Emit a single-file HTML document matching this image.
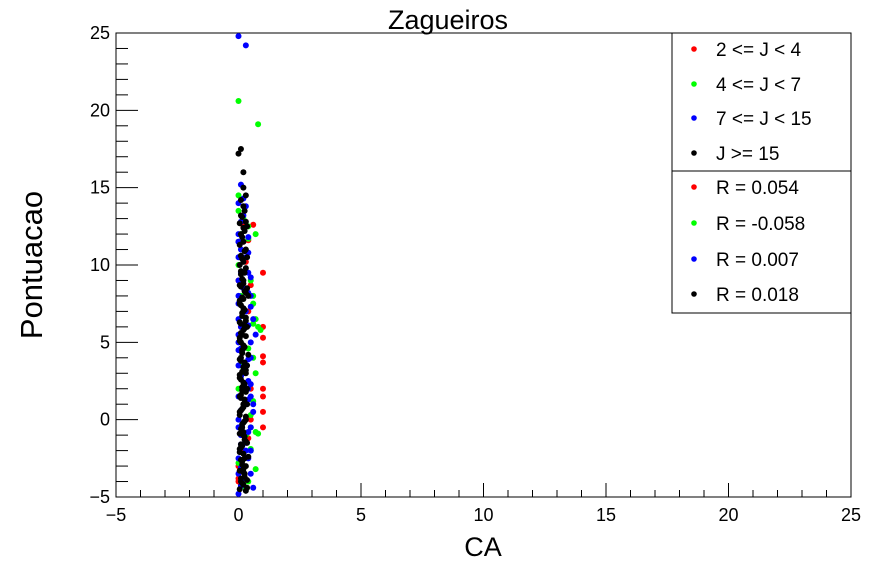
<!DOCTYPE html>
<html><head><meta charset="utf-8"><style>
html,body{margin:0;padding:0;background:#fff;}
svg{display:block;font-family:"Liberation Sans",sans-serif;}
</style></head><body>
<svg id="chart" width="896" height="572">
<rect x="0" y="0" width="896" height="572" fill="#fff"/>
<text x="448" y="29" font-size="27" text-anchor="middle">Zagueiros</text>
<text x="483" y="556" font-size="27" text-anchor="middle">CA</text>
<text transform="translate(42,265) rotate(-90)" font-size="31" text-anchor="middle">Pontuacao</text>
<g id="axes"></g>
<g id="points"></g>
<g id="legend"></g>
</svg>
<script>
const xTicks=[-5,0,5,10,15,20,25];
const yTicks=[-5,0,5,10,15,20,25];
const seriesNames=["2 <= J < 4","4 <= J < 7","7 <= J < 15","J >= 15"];
const seriesR=["R = 0.054","R = -0.058","R = 0.007","R = 0.018"];
const colors=["#ff0000","#00ff00","#0000ff","#000000"];
const redX=[1.0,1.0,1.0,1.0,1.0,1.0,1.0,1.0,1.0,0.6,0.5,0.4,0.3,0.2,0.1,0.0,0.0,0.1,0.5,0.4,0.0,0.2,0.4,0.5,0.0,0.1];
const redY=[9.5,6.0,5.3,4.1,3.7,2.0,1.5,0.5,-0.5,12.6,8.7,7.0,10.2,11.5,6.0,-3.0,-4.0,-2.0,2.0,-1.2,9.0,12.5,11.6,0.0,-3.8,4.5];
const greenX=[0.0,0.8,0.7,0.6,0.4,0.8,0.9,0.7,0.6,0.5,0.8,0.7,0.5,0.4,0.3,0.2,0.0,0.0,0.1,0.5,0.7,0.6,0.0,0.1,0.3,0.5,0.0,0.4,0.6,0.7,0.5,0.0,0.1,0.6,0.4];
const greenY=[20.6,19.1,12.0,7.5,12.5,6.0,5.8,3.0,1.2,0.3,-0.9,-3.2,-2.0,-4.0,-4.5,13.0,14.5,13.5,12.0,9.0,6.5,4.0,10.0,8.0,-1.0,-0.5,2.0,11.7,6.2,-0.8,-1.9,-2.8,3.5,8.0,4.6];
const blueX=[0.0,0.3,0.1,0.0,0.2,0.0,0.1,0.3,0.4,0.0,0.2,0.5,0.6,0.7,0.5,0.4,0.5,0.6,0.5,0.3,0.4,0.5,0.6,0.0,0.1,0.2,0.3,0.1,0.0,0.2,0.4,0.6,0.0,0.1,0.3,0.2,0.0,0.1,0.4,0.5,0.2,0.3,0.0,0.0,0.0,0.0,0.0,0.0,0.0,0.0,0.0,0.0,0.0,0.0,0.1,0.1,0.1,0.1,0.1,0.1,0.1,0.1,0.4,0.4,0.4,0.4,0.4,0.4,0.5,0.5,0.5,0.5];
const blueY=[24.8,24.2,15.2,14.0,13.2,12.0,11.0,10.5,9.5,9.0,8.5,8.0,6.5,5.5,4.0,2.5,1.5,0.5,-0.5,-1.5,-2.5,-3.5,-4.4,-4.8,-4.3,-3.8,7.0,6.0,5.0,3.0,2.0,1.0,0.0,-1.0,-2.0,-3.0,11.5,12.8,11.8,9.2,14.3,13.8,10.5,8.0,6.5,4.5,3.5,1.5,-0.5,-2.5,-3.5,11.5,7.5,5.5,9.5,7.8,4.6,2.8,0.6,-1.6,-3.1,-4.0,10.8,8.2,6.1,3.9,1.3,-0.8,7.3,5.0,2.3,-2.0];
const blackX=[0.1,0.0,0.2,0.2,0.3,0.1,0.2,0.1,0.3,0.2,0.1,0.2,0.3,0.1,0.2,0.3,0.1,0.2,0.1,0.3,0.2,0.1,0.2,0.3,0.1,0.2,0.3,0.1,0.2,0.4,0.1,0.2,0.3,0.1,0.2,0.3,0.1,0.2,0.1,0.3,0.2,0.1,0.2,0.3,0.1,0.2,0.1,0.3,0.2,0.1,0.2,0.3,0.1,0.2,0.4,0.1,0.2,0.3,0.2,0.1,0.2,0.3,0.1,0.2,0.1,0.3,0.2,0.4,0.2,0.1,
0.25,0.15,0.05,0.25,0.15,0.05,0.25,0.15,0.05,0.25,0.15,0.05,0.25,0.15,0.05,0.25,0.15,0.05,0.25,0.15,0.05,0.25,0.15,0.05,0.25,0.15,0.05,0.25,0.15,0.05,0.25,0.15,0.05,0.25,0.15,0.05,0.25,0.15,0.05,0.25,0.15,0.05,0.25,0.15,0.05,0.25,0.15,0.05,0.25,0.15,0.05,0.25,0.15,0.05,0.25,0.15,0.05,0.25,0.15,0.05,0.35,0.35,0.35,0.35,0.35,0.35,0.35,0.35,0.35,0.35];
const blackY=[17.5,17.2,16.0,15.0,14.5,14.2,13.8,13.2,12.8,12.4,12.0,11.5,11.0,10.6,10.2,9.8,9.4,9.0,8.6,8.2,7.8,7.4,7.0,6.6,6.2,5.8,5.4,5.0,4.6,4.2,3.8,3.4,3.0,2.6,2.2,1.8,1.4,1.0,0.6,0.2,-0.2,-0.6,-1.0,-1.4,-1.8,-2.2,-2.6,-3.0,-3.4,-3.8,-4.2,-4.6,-4.0,-3.2,-2.4,-1.6,-0.8,0.0,0.8,1.6,2.4,3.2,4.0,4.8,5.6,6.4,7.2,8.0,8.8,9.6,
13.5,13.1,12.7,12.2,11.8,11.3,10.9,10.4,10.0,9.5,9.1,8.7,8.3,7.9,7.5,7.1,6.7,6.3,5.9,5.5,5.1,4.7,4.3,3.9,3.5,3.1,2.7,2.3,1.9,1.5,1.1,0.7,0.3,-0.1,-0.5,-0.9,-1.3,-1.7,-2.1,-2.5,-2.9,-3.3,-3.7,-4.1,-4.5,-3.5,-2.7,-1.9,-1.1,-0.3,0.5,1.3,2.1,2.9,3.7,4.5,5.3,6.1,6.9,7.7,8.5,6.0,3.5,1.0,-1.5,-3.9,10.5,12.5,2.0,-4.4];
const X0=116,X1=851,Y0=497,Y1=33;
const sx=v=>X0+(v+5)/30*(X1-X0);
const sy=v=>Y0-(v+5)/30*(Y0-Y1);
const NS="http://www.w3.org/2000/svg";
function mk(t,a,p){const e=document.createElementNS(NS,t);for(const k in a)e.setAttribute(k,a[k]);p.appendChild(e);return e;}
const axes=document.getElementById('axes');
const frame=mk('rect',{x:X0,y:Y1,width:X1-X0,height:Y0-Y1,fill:'none',stroke:'#000','stroke-width':1},axes);


for(let v=-5;v<=25;v++){
  const maj=(v%5===0);
  const t=mk('line',{x1:sx(v),x2:sx(v),y1:Y0,y2:Y0-(maj?14:7),stroke:'#000'},axes);
  
  
  const u=mk('line',{x1:X0,x2:X0+(maj?22:12),y1:sy(v),y2:sy(v),stroke:'#000'},axes);
  
  
}
const fmt=v=>v<0?'\u2212'+(-v):String(v);
xTicks.forEach(v=>{const t=mk('text',{x:sx(v),y:521,'font-size':18,'text-anchor':'middle'},axes);t.textContent=fmt(v);
  
  });
yTicks.forEach(v=>{const t=mk('text',{x:110,y:sy(v)+6,'font-size':18,'text-anchor':'end'},axes);t.textContent=fmt(v);
  
  });
const pts=document.getElementById('points');
const series=[[redX,redY],[greenX,greenY],[blueX,blueY],[blackX,blackY]];
series.forEach((s,i)=>{s[0].forEach((x,j)=>{
  const c=mk('circle',{cx:sx(x),cy:sy(s[1][j]),r:3,fill:colors[i]},pts);
  
  
});});
const lg=document.getElementById('legend');
const box=mk('rect',{x:672,y:33,width:179,height:280,fill:'#fff',stroke:'#000'},lg);


mk('line',{x1:672,x2:851,y1:171,y2:171,stroke:'#000'},lg);
const ly=[52,87,121,156,190,226,262,297];
for(let k=0;k<8;k++){
  const i=k%4;
  const c=mk('circle',{cx:694,cy:ly[k]-3,r:2.8,fill:colors[i]},lg);
  
  
  const t=mk('text',{x:716,y:ly[k]+4,'font-size':19},lg);
  t.textContent=k<4?seriesNames[i]:seriesR[i];
  
  
}
</script>
</body></html>
